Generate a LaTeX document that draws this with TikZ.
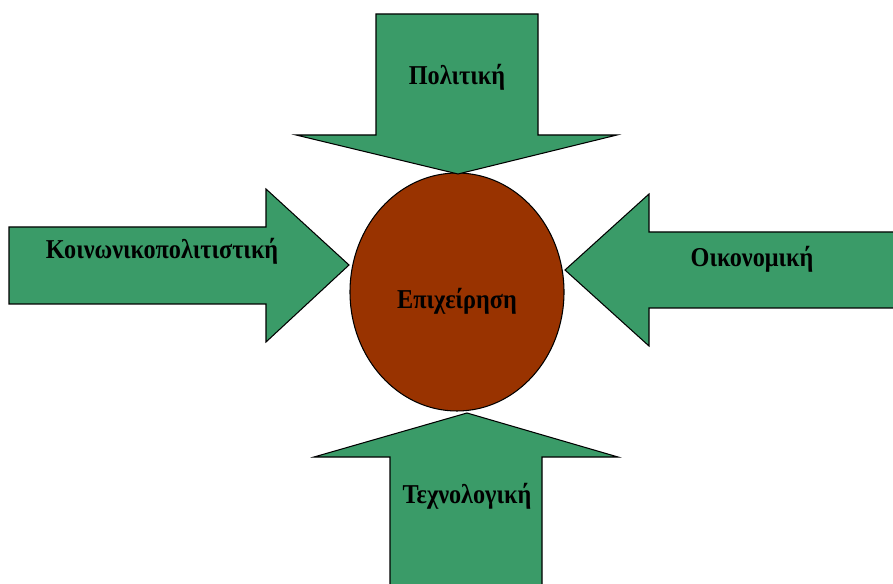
\documentclass[tikz,border=0pt]{standalone}
\usepackage{fontspec}
\setmainfont[FakeStretch=0.89]{Liberation Serif}
\usetikzlibrary{positioning}
\definecolor{forcegreen}{RGB}{58,155,104}
\definecolor{firmbrown}{RGB}{153,51,0}

\begin{document}
\begin{tikzpicture}[x=0.02cm, y=-0.02cm,
    force/.style={draw=black, fill=forcegreen, line width=0.6pt, line join=miter},
    forcetext/.style={font=\fontsize{15.5}{18}\selectfont\bfseries, inner sep=0}]
\useasboundingbox (0,0) rectangle (893,584);

% Firm
\draw[fill=firmbrown, line width=0.6pt] (457,292) ellipse [x radius=107, y radius=119];
\node[forcetext] (firm) at (457,301) {Επιχείρηση};

% Politiki (top)
\draw[force] (376,14) -- (538,14) -- (538,135) -- (617,135) -- (458,174)
    -- (296,135) -- (376,135) -- cycle;
\node[forcetext] (pol) at (457,77) {Πολιτική};

% Koinonikopolitistiki (left)
\draw[force] (9,227) -- (266,227) -- (266,189) -- (349,265) -- (266,342)
    -- (266,304) -- (9,304) -- cycle;
\node[forcetext] (koin) at (162,251) {Κοινωνικοπολιτιστική};

% Oikonomiki (right)
\draw[force] (897,232) -- (649,232) -- (649,194) -- (565,270) -- (649,346)
    -- (649,308) -- (897,308);
\node[forcetext] (oik) at (752,259) {Οικονομική};

% Technologiki (bottom)
\draw[force] (390,588) -- (390,457) -- (314,457) -- (467,413) -- (618,457)
    -- (542,457) -- (542,588);
\node[forcetext] (tech) at (467,496) {Τεχνολογική};
\end{tikzpicture}
\end{document}
